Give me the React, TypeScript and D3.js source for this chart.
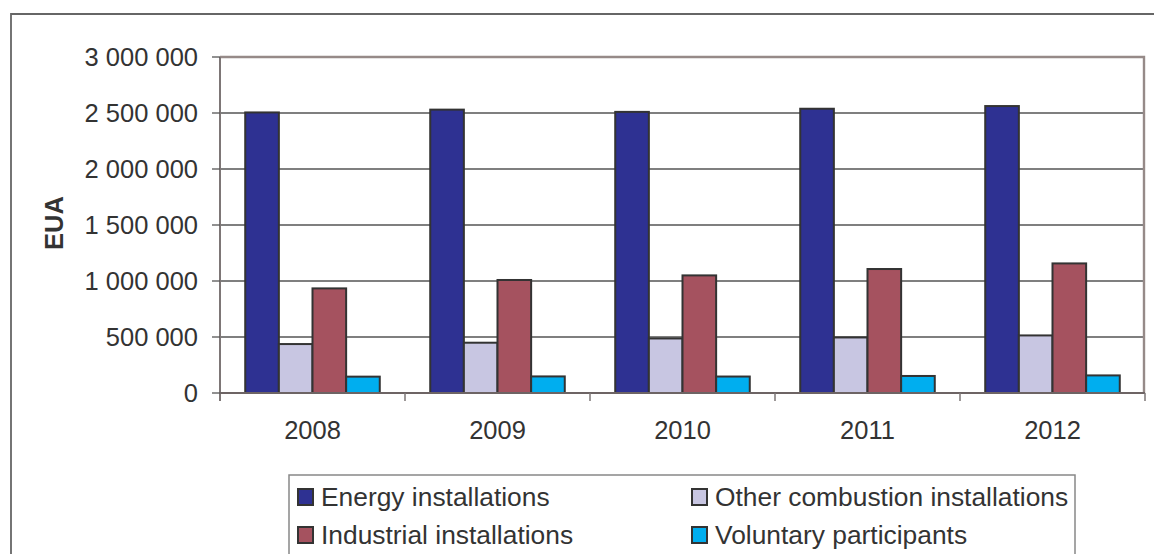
import * as d3 from "d3";
import React from "react";

const years = ["2008", "2009", "2010", "2011", "2012"];
const seriesNames = [
  "Energy installations",
  "Other combustion installations",
  "Industrial installations",
  "Voluntary participants",
];
const energy = [2505000, 2530000, 2510000, 2538000, 2562000];
const otherCombustion = [437000, 449000, 487000, 496000, 514000];
const industrial = [934000, 1009000, 1050000, 1107000, 1157000];
const voluntary = [146000, 148000, 147000, 152000, 157000];
const yTicks = [0, 500000, 1000000, 1500000, 2000000, 2500000, 3000000];

const seriesValues = [energy, otherCombustion, industrial, voluntary];
const colors = ["#2e3192", "#c8c6e2", "#a5525f", "#00aeef"];

const W = 1154;
const H = 554;
const left = 220;
const right = 1145;
const top = 57;
const bottom = 393;
const font = "'Liberation Sans', Arial, sans-serif";
const textColor = "#333";

const fmt = (v: number) => d3.format(",")(v).replace(/,/g, " ");

const App: React.FC = () => {
  const x = d3.scaleBand<string>().domain(years).range([left, right]).padding(0);
  const x1 = d3
    .scaleBand<number>()
    .domain(d3.range(seriesNames.length))
    .range([0, x.bandwidth()])
    .paddingInner(0)
    .paddingOuter(0.75);
  const y = d3.scaleLinear().domain([0, 3000000]).range([bottom, top]);

  // legend placed in two columns, series order row by row
  const legendCols = [297, 691];
  const legendRows = [497, 535];

  return (
    <svg
      width={W}
      height={H}
      style={{ position: "absolute", left: 0, top: 0, background: "#fff" }}
      fontFamily={font}
    >
      {/* outer chart frame (right and bottom edges are cut off) */}
      <path d={`M11,${H}V14H${W}`} fill="none" stroke="#666" strokeWidth={1.8} />

      {/* gridlines */}
      {yTicks.slice(1, -1).map((t) => (
        <line key={t} x1={left} x2={right} y1={y(t)} y2={y(t)} stroke="#555" strokeWidth={1.3} />
      ))}

      {/* plot area border top / right */}
      <path d={`M${left},${top}H${right - 1}V${bottom}`} fill="none" stroke="#968a88" strokeWidth={2.4} />

      {/* bars */}
      {years.map((yr, i) => (
        <g key={yr} transform={`translate(${x(yr)},0)`}>
          {seriesValues.map((vals, s) => (
            <rect
              key={s}
              x={x1(s)}
              y={y(vals[i])}
              width={x1.bandwidth()}
              height={bottom - y(vals[i])}
              fill={colors[s]}
              stroke="#333"
              strokeWidth={2}
            />
          ))}
        </g>
      ))}

      {/* y axis */}
      <line x1={left} x2={left} y1={top} y2={bottom + 8} stroke="#7d7676" strokeWidth={2} />
      {yTicks.map((t) => (
        <g key={t}>
          <line x1={left - 8} x2={left} y1={y(t)} y2={y(t)} stroke="#555" strokeWidth={1.3} />
          <text
            x={198}
            y={y(t)}
            dy="0.35em"
            textAnchor="end"
            fontSize={25.5}
            fill={textColor}
          >
            {fmt(t)}
          </text>
        </g>
      ))}
      <text
        transform={`translate(63,223) rotate(-90)`}
        textAnchor="middle"
        fontSize={25.5}
        fontWeight="bold"
        fill={textColor}
      >
        EUA
      </text>

      {/* x axis */}
      <line x1={left} x2={right} y1={bottom} y2={bottom} stroke="#6d6464" strokeWidth={2} />
      {years.map((yr) => (
        <line
          key={yr}
          x1={(x(yr) ?? 0) + x.bandwidth()}
          x2={(x(yr) ?? 0) + x.bandwidth()}
          y1={bottom}
          y2={bottom + 8}
          stroke="#7d7676"
          strokeWidth={1.5}
        />
      ))}
      {years.map((yr) => (
        <text
          key={yr}
          x={(x(yr) ?? 0) + x.bandwidth() / 2}
          y={439}
          textAnchor="middle"
          fontSize={25.5}
          fill={textColor}
        >
          {yr}
        </text>
      ))}

      {/* legend */}
      <path d={`M289,${H}V475H1075V${H}`} fill="none" stroke="#888" strokeWidth={1.5} />
      {seriesNames.map((name, s) => {
        const cx = legendCols[s % 2];
        const cy = legendRows[Math.floor(s / 2)];
        return (
          <g key={name}>
            <rect x={cx + 1} y={cy - 8} width={15} height={16} fill={colors[s]} stroke="#333" strokeWidth={2} />
            <text
              transform={`translate(${cx + 24},${cy}) scale(1.055,1)`}
              dy="0.35em"
              fontSize={25}
              fill={textColor}
            >
              {name}
            </text>
          </g>
        );
      })}
    </svg>
  );
};

export default App;
